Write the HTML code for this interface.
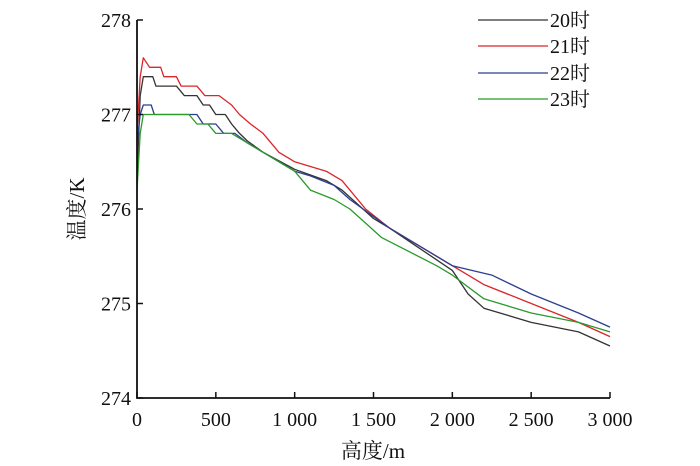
<!DOCTYPE html>
<html><head><meta charset="utf-8"><style>
html,body{margin:0;padding:0;background:#fff;width:700px;height:466px;overflow:hidden}
svg{display:block}
text{font-family:"Liberation Serif","Noto Serif CJK SC",serif;fill:#111}
</style></head><body>
<svg id="chart" width="700" height="466"></svg>
<script>
const xTicks=[0,500,1000,1500,2000,2500,3000];
const xTickLabels=["0","500","1 000","1 500","2 000","2 500","3 000"];
const yTicks=[274,275,276,277,278];
const seriesNames=["20时","21时","22时","23时"];
const seriesColors=["#333333","#d9262b","#2b3f8f","#2a9a2a"];
const x20=[0,20,40,100,120,250,300,380,420,460,500,560,600,650,700,800,1000,1200,1300,1500,1600,2000,2100,2200,2500,2800,3000];
const y20=[276.3,277.2,277.4,277.4,277.3,277.3,277.2,277.2,277.1,277.1,277.0,277.0,276.9,276.8,276.72,276.6,276.42,276.3,276.2,275.9,275.8,275.35,275.1,274.95,274.8,274.7,274.55];
const x21=[0,20,40,80,150,170,250,280,380,430,520,600,650,720,800,900,1000,1100,1200,1300,1450,1600,2000,2200,2500,2800,3000];
const y21=[276.8,277.4,277.6,277.5,277.5,277.4,277.4,277.3,277.3,277.2,277.2,277.1,277.0,276.9,276.8,276.6,276.5,276.45,276.4,276.3,276.0,275.8,275.4,275.2,275.0,274.8,274.65];
const x22=[0,20,40,90,110,380,420,500,550,620,700,800,1000,1100,1250,1350,1600,2000,2250,2500,2800,3000];
const y22=[276.7,277.0,277.1,277.1,277.0,277.0,276.9,276.9,276.8,276.8,276.7,276.6,276.4,276.35,276.25,276.1,275.8,275.4,275.3,275.1,274.9,274.75];
const x23=[0,20,40,330,380,450,500,600,700,800,1000,1100,1250,1350,1550,1900,2000,2200,2500,2800,3000];
const y23=[276.2,276.8,277.0,277.0,276.9,276.9,276.8,276.8,276.7,276.6,276.4,276.2,276.1,276.0,275.7,275.4,275.3,275.05,274.9,274.8,274.7];
const seriesX=[x20,x21,x22,x23], seriesY=[y20,y21,y22,y23];
const svg=document.getElementById('chart');
const NS='http://www.w3.org/2000/svg';
const X0=137,X1=610,Y0=398,Y1=20;
const sx=v=>X0+(v-0)/(3000-0)*(X1-X0);
const sy=v=>Y0-(v-274)/(278-274)*(Y0-Y1);
function mk(tag,attrs){const e=document.createElementNS(NS,tag);for(const k in attrs)e.setAttribute(k,attrs[k]);svg.appendChild(e);return e;}
// series
for(let s=0;s<4;s++){
  const d=seriesX[s].map((v,i)=>(i?'L':'M')+sx(v).toFixed(1)+' '+sy(seriesY[s][i]).toFixed(1)).join(' ');
  const p=mk('path',{d:d,fill:'none',stroke:seriesColors[s],'stroke-width':1.3,'stroke-linejoin':'round'});
  
  
}
// axes
const ax=mk('path',{d:`M${X0} ${Y1} L${X0} ${Y0} L${X1} ${Y0}`,fill:'none',stroke:'#111','stroke-width':1.8});


xTicks.forEach((v,i)=>{
  const x=sx(v);
  const t=mk('line',{x1:x,x2:x,y1:Y0,y2:Y0-6,stroke:'#111','stroke-width':1.5});
  
  
  const l=mk('text',{x:x,y:Y0+28,'text-anchor':'middle','font-size':20});
  l.textContent=xTickLabels[i];
  
  
});
yTicks.forEach(v=>{
  const y=sy(v);
  const t=mk('line',{x1:X0,x2:X0+6,y1:y,y2:y,stroke:'#111','stroke-width':1.5});
  
  
  const l=mk('text',{x:X0-6,y:y+7,'text-anchor':'end','font-size':20});
  l.textContent=v;
  
  
});
const xt=mk('text',{x:373,y:458,'text-anchor':'middle','font-size':21});
xt.textContent='高度/m';


const yt=mk('text',{x:0,y:0,'text-anchor':'middle','font-size':21,transform:'translate(84 209) rotate(-90)'});
yt.textContent='温度/K';


// legend
const legY=[20,46,73,99];
for(let s=0;s<4;s++){
  const ln=mk('line',{x1:478,x2:548,y1:legY[s],y2:legY[s],stroke:seriesColors[s],'stroke-width':1.3});
  
  
  const tx=mk('text',{x:550,y:legY[s]+7,'font-size':20});
  tx.textContent=seriesNames[s];
  
  
}
</script>
</body></html>
